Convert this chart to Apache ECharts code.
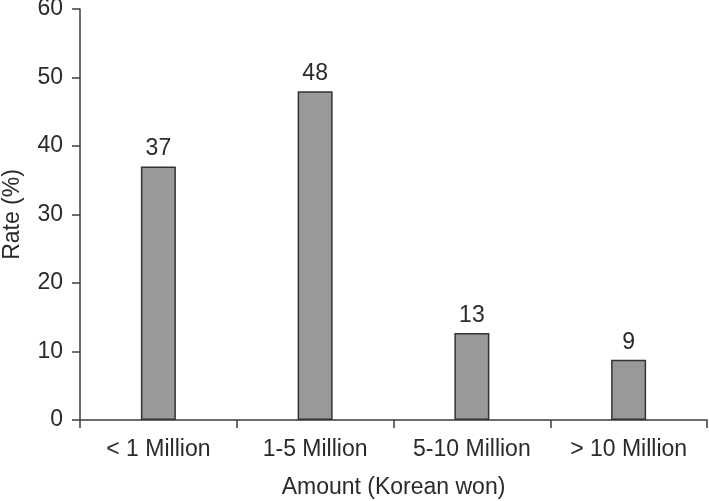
<!DOCTYPE html>
<html>
<head>
<meta charset="utf-8">
<script src="https://cdn.jsdelivr.net/npm/echarts@6/dist/echarts.min.js"></script>
<style>
html, body { margin: 0; padding: 0; background: #fff; }
#chart { width: 709px; height: 501px; }
</style>
</head>
<body>
<div id="chart"></div>
<script>
var categories = ['< 1 Million', '1-5 Million', '5-10 Million', '> 10 Million'];
var rates = [37, 48, 12.7, 8.8];
var rateLabels = ['37', '48', '13', '9'];
var yTicks = [0, 10, 20, 30, 40, 50, 60];

var myChart = echarts.init(document.getElementById('chart'));
var textColor = '#2a2a2a';
var font = 'Liberation Sans, Arial, sans-serif';

var option = {
    animation: false,
    grid: { left: 80, right: 2, top: 9, bottom: 81, containLabel: false, outerBoundsMode: 'none' },
    xAxis: {
        type: 'category',
        data: categories,
        name: 'Amount (Korean won)',
        nameLocation: 'middle',
        nameGap: 56,
        nameTextStyle: { color: textColor, fontSize: 23, fontFamily: font },
        axisLine: { lineStyle: { color: '#3c3c3c', width: 1.5 } },
        axisTick: { show: true, length: 8, lineStyle: { color: '#3c3c3c', width: 1.5 } },
        axisLabel: { color: textColor, fontSize: 23, fontFamily: font, margin: 18 }
    },
    yAxis: {
        type: 'value',
        min: yTicks[0],
        max: yTicks[yTicks.length - 1],
        interval: 10,
        name: 'Rate (%)',
        nameLocation: 'middle',
        nameGap: 56,
        nameTextStyle: { color: textColor, fontSize: 23, fontFamily: font },
        axisLine: { show: true, lineStyle: { color: '#3c3c3c', width: 1.5 } },
        axisTick: { show: true, length: 8, lineStyle: { color: '#3c3c3c', width: 1.5 } },
        splitLine: { show: false },
        axisLabel: { color: textColor, fontSize: 23, fontFamily: font, margin: 17 }
    },
    series: [{
        name: 'Rate',
        type: 'bar',
        data: rates,
        barWidth: 35,
        itemStyle: { color: '#999999', borderColor: '#333333', borderWidth: 1.5 },
        label: {
            show: true,
            position: 'top',
            distance: 6,
            color: textColor,
            fontSize: 23,
            fontFamily: font,
            formatter: function (p) { return rateLabels[p.dataIndex]; }
        }
    }]
};

myChart.setOption(option);
</script>
</body>
</html>
